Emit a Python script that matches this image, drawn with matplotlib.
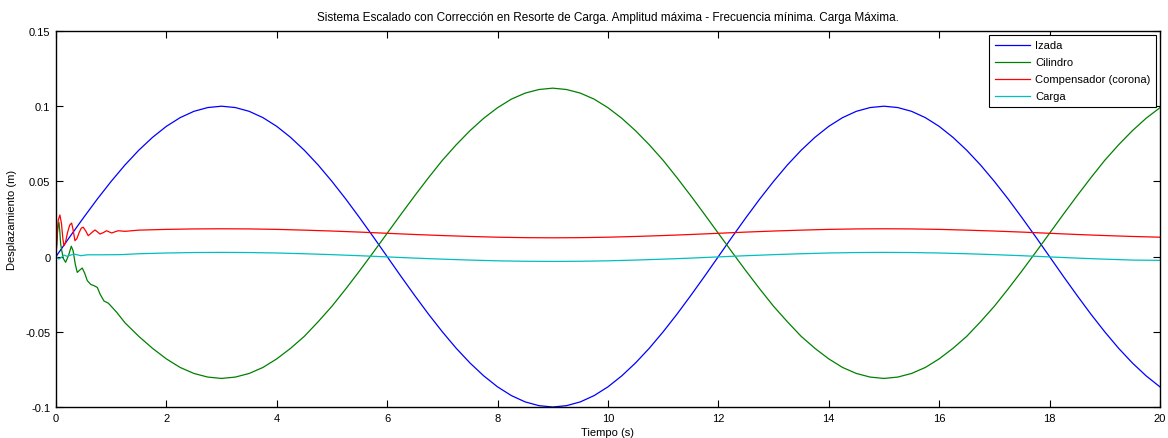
import numpy as np
import matplotlib
matplotlib.use("Agg")
import matplotlib.pyplot as plt

plt.rcParams["font.family"] = ["Liberation Sans", "DejaVu Sans"]

# time grids
t_q = np.arange(0, 20.25, 0.25)      # 0.25 s step (Izada, Cilindro)
t_h = np.arange(1.5, 20.5, 0.5)      # 0.5 s step from 1.5 s (Compensador, Carga)

izada = [0.0, 0.0131, 0.0259, 0.0383, 0.0500, 0.0609, 0.0707, 0.0793, 0.0866, 0.0924,
         0.0966, 0.0991, 0.1000,
         0.0991, 0.0966, 0.0924, 0.0866, 0.0793, 0.0707, 0.0609, 0.0500, 0.0383, 0.0259,
         0.0131, 0.0,
         -0.0131, -0.0259, -0.0383, -0.0500, -0.0609, -0.0707, -0.0793, -0.0866, -0.0924,
         -0.0966, -0.0991, -0.1000,
         -0.0991, -0.0966, -0.0924, -0.0866, -0.0793, -0.0707, -0.0609, -0.0500, -0.0383,
         -0.0259, -0.0131, 0.0,
         0.0131, 0.0259, 0.0383, 0.0500, 0.0609, 0.0707, 0.0793, 0.0866, 0.0924, 0.0966,
         0.0991, 0.1000,
         0.0991, 0.0966, 0.0924, 0.0866, 0.0793, 0.0707, 0.0609, 0.0500, 0.0383, 0.0259,
         0.0131, 0.0,
         -0.0131, -0.0259, -0.0383, -0.0500, -0.0609, -0.0707, -0.0793, -0.0866]

# Cilindro: transient part (0 - 1.25 s) then 0.25 s grid from 1.5 s
cil_t0 = [0, 0.02, 0.035, 0.054, 0.07, 0.085, 0.13, 0.175, 0.23, 0.278, 0.31, 0.35,
          0.386, 0.43, 0.477, 0.52, 0.568, 0.63, 0.688, 0.75, 0.8, 0.87, 0.95, 1.0,
          1.1, 1.25]
cil_v0 = [0, 0.012, 0.020, 0.0228, 0.017, 0.0084, -0.001, -0.0038, 0.001, 0.0069,
          0.004, -0.005, -0.0105, -0.009, -0.0076, -0.011, -0.016, -0.0185, -0.0193,
          -0.0205, -0.025, -0.0295, -0.031, -0.033, -0.037, -0.044]
cilindro = [-0.053, -0.061, -0.068, -0.0737, -0.0777, -0.0801, -0.081,
            -0.0801, -0.0777, -0.0737, -0.068, -0.061, -0.053, -0.0433, -0.033, -0.0215,
            -0.0095, 0.0029, 0.0155,
            0.0281, 0.0405, 0.0525, 0.064, 0.0743, 0.0837, 0.092, 0.099, 0.1047, 0.1087,
            0.1111, 0.112,
            0.1111, 0.1087, 0.1047, 0.099, 0.092, 0.0837, 0.0743, 0.064, 0.0525, 0.0405,
            0.0281, 0.0155,
            0.0029, -0.0095, -0.0215, -0.033, -0.0433, -0.053, -0.061, -0.068, -0.0737,
            -0.0777, -0.0801, -0.081,
            -0.0801, -0.0777, -0.0737, -0.068, -0.061, -0.053, -0.0433, -0.033, -0.0215,
            -0.0095, 0.0029, 0.0155,
            0.0281, 0.0405, 0.0525, 0.064, 0.0743, 0.0837, 0.092, 0.099]

comp_t0 = [0, 0.02, 0.04, 0.072, 0.1, 0.125, 0.145, 0.17, 0.21, 0.25, 0.284, 0.31,
           0.344, 0.38, 0.42, 0.46, 0.495, 0.54, 0.585, 0.65, 0.707, 0.75, 0.797, 0.86,
           0.918, 0.96, 1.01, 1.07, 1.13, 1.25]
comp_v0 = [0, 0.012, 0.024, 0.0277, 0.022, 0.012, 0.0073, 0.009, 0.016, 0.021, 0.0223,
           0.018, 0.0106, 0.012, 0.016, 0.019, 0.0195, 0.017, 0.0139, 0.016, 0.0177,
           0.0165, 0.015, 0.016, 0.0172, 0.0165, 0.0157, 0.0165, 0.0172, 0.0168]
compensador = [0.0176, 0.0181, 0.0184, 0.0185, 0.0184, 0.0181, 0.0176, 0.0170, 0.0163,
               0.0155, 0.0147, 0.0140, 0.0134, 0.0129, 0.0126, 0.0125, 0.0126, 0.0129,
               0.0134, 0.0140, 0.0147, 0.0155, 0.0163, 0.0170, 0.0176, 0.0181, 0.0184,
               0.0185, 0.0184, 0.0181, 0.0176, 0.0170, 0.0163, 0.0155, 0.0147, 0.0140,
               0.0134, 0.0129]

carga_t0 = [0, 0.03, 0.054, 0.1, 0.145, 0.2, 0.25, 0.33, 0.45, 0.57, 0.8, 1.17]
carga_v0 = [0, -0.001, -0.0016, -0.0005, 0.001, 0.0002, 0.0008, 0.0017, 0.0006,
            0.0012, 0.0012, 0.0013]
carga = [0.0019, 0.0024, 0.0027, 0.0028, 0.0027, 0.0024, 0.0019, 0.0013, 0.0006,
         -0.0002, -0.0010, -0.0017, -0.0023, -0.0028, -0.0031, -0.0032, -0.0031,
         -0.0028, -0.0023, -0.0017, -0.0010, -0.0002, 0.0006, 0.0013, 0.0019, 0.0024,
         0.0027, 0.0028, 0.0027, 0.0024, 0.0019, 0.0013, 0.0006, -0.0002, -0.0010,
         -0.0017, -0.0023, -0.0025]

fig = plt.figure(figsize=(11.68, 4.39), dpi=100)
ax = fig.add_axes([0.0479, 0.0706, 0.9452, 0.8565])

lw = 0.9
ax.plot(t_q, izada, color="#0000ff", lw=lw, label="Izada")
ax.plot(np.r_[cil_t0, t_q[6:]], np.r_[cil_v0, cilindro], color="#008000", lw=lw,
        label="Cilindro")
ax.plot(np.r_[comp_t0, t_h], np.r_[comp_v0, compensador], color="#ff0000", lw=lw,
        label="Compensador (corona)")
ax.plot(np.r_[carga_t0, t_h], np.r_[carga_v0, carga], color="#00bfbf", lw=lw, label="Carga")

ax.set_xlim(0, 20)
ax.set_ylim(-0.1, 0.15)
ax.set_xticks(np.arange(0, 21, 2))
ax.set_yticks([-0.1, -0.05, 0, 0.05, 0.1, 0.15])
ax.set_yticklabels(["-0.1", "-0.05", "0", "0.05", "0.1", "0.15"])
ax.tick_params(direction="in", length=5, top=True, right=True, labelsize=8, width=0.8,
               pad=4)
for sp in ax.spines.values():
    sp.set_linewidth(1.0)

ax.set_title("Sistema Escalado con Corrección en Resorte de Carga. Amplitud máxima - "
             "Frecuencia mínima. Carga Máxima.", fontsize=8.5, pad=8)
ax.set_xlabel("Tiempo (s)", fontsize=8, labelpad=3)
ax.set_ylabel("Desplazamiento (m)", fontsize=8, labelpad=6)

leg = ax.legend(loc="upper right", fontsize=8, fancybox=False, framealpha=1,
                edgecolor="black", handlelength=3.2, handletextpad=0.45,
                borderaxespad=0.35, labelspacing=0.63, borderpad=0.5)
leg.get_frame().set_linewidth(0.8)

fig.savefig("out.png", dpi=100)
